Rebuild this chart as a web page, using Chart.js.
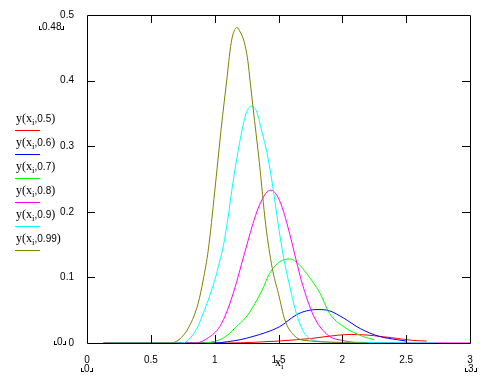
<!DOCTYPE html>
<html>
<head>
<meta charset="utf-8">
<script src="https://cdn.jsdelivr.net/npm/chart.js@4"></script>
<style>
    body { margin: 0; background: #fff; }
    #wrap { position: relative; width: 492px; height: 377px; }
    canvas { position: absolute; left: 0; top: 0; }
    .t { position: absolute; white-space: nowrap; color: #000; line-height: 14px; }
    .sans { font: 10px "Liberation Sans", Arial, sans-serif; }
    .ser { font: 12px "Liberation Serif", "Times New Roman", serif; }
    .sub { font: 9px "Liberation Serif", serif; position: relative; top: 3px; }
    .lim::before, .lim::after { content: ''; position: absolute; bottom: 2px; width: 2px; height: 3px; border-bottom: 1px solid #000; }
    .lim::before { left: -3px; border-left: 1px solid #000; }
    .lim::after { right: -3px; border-right: 1px solid #000; }
    .key { position: absolute; left: 15px; width: 25px; height: 1px; }
</style>
</head>
<body>
<div id="wrap">
    <canvas id="plot" width="492" height="377"></canvas>
    <div id="legend"></div>
    <div class="t sans lim" style="left:42px; top:21px;">0.48</div>
    <div class="t sans lim" style="left:57px; top:336px;">0</div>
    <div class="t sans lim" style="left:84px; top:363px;">0</div>
    <div class="t sans lim" style="left:468px; top:363px;">3</div>
    <div class="t ser" style="left:275px; top:355px;">x<span class="sub">i</span></div>
</div>
<script>
// Series data (x, y pairs per curve)
const xRed = [0.13, 1.1, 1.3, 1.5, 1.64, 1.76, 1.88, 1.97, 2.07, 2.2, 2.3, 2.43, 2.55, 2.66];
const yRed = [0, 0, 0.001, 0.003, 0.005, 0.007, 0.01, 0.012, 0.013, 0.012, 0.01, 0.007, 0.004, 0.003];

const xBlue = [0.13, 1.0, 1.1, 1.2, 1.3, 1.4, 1.51, 1.64, 1.72, 1.81, 1.9, 2.01, 2.14, 2.29, 2.43, 2.5];
const yBlue = [0, 0, 0.002, 0.005, 0.01, 0.016, 0.025, 0.043, 0.049, 0.051, 0.049, 0.038, 0.022, 0.01, 0.005, 0.003];

const xGreen = [0.13, 0.9, 1.04, 1.1, 1.17, 1.24, 1.3, 1.37, 1.43, 1.51, 1.595, 1.66, 1.72, 1.825, 1.9, 2.01, 2.16, 2.25];
const yGreen = [0, 0, 0.005, 0.012, 0.025, 0.038, 0.055, 0.08, 0.106, 0.124, 0.128, 0.12, 0.106, 0.076, 0.045, 0.025, 0.01, 0.005];

const xMagenta = [0.13, 0.85, 0.95, 1.04, 1.1, 1.16, 1.21, 1.26, 1.3, 1.34, 1.37, 1.4, 1.44, 1.485, 1.53, 1.564, 1.6, 1.65, 1.69, 1.75, 1.8, 1.9, 2.0, 2.1, 3.0];
const yMagenta = [0, 0, 0.008, 0.025, 0.05, 0.085, 0.12, 0.155, 0.182, 0.205, 0.218, 0.228, 0.233, 0.226, 0.206, 0.184, 0.157, 0.117, 0.088, 0.053, 0.032, 0.01, 0.004, 0.001, 0];

const xCyan = [0.13, 0.75, 0.8, 0.86, 0.92, 1.0, 1.04, 1.07, 1.1, 1.146, 1.21, 1.25, 1.29, 1.33, 1.37, 1.41, 1.446, 1.48, 1.51, 1.55, 1.59, 1.63, 1.67, 1.71, 1.75, 1.85, 2.0, 2.73];
const yCyan = [0, 0, 0.006, 0.022, 0.05, 0.095, 0.125, 0.15, 0.185, 0.248, 0.32, 0.352, 0.361, 0.352, 0.322, 0.29, 0.25, 0.205, 0.165, 0.12, 0.085, 0.052, 0.028, 0.013, 0.006, 0.002, 0.001, 0];

const xOlive = [0.13, 0.65, 0.72, 0.8, 0.87, 0.91, 0.95, 1.0, 1.05, 1.1, 1.12, 1.14, 1.175, 1.2, 1.23, 1.26, 1.28, 1.3, 1.35, 1.4, 1.45, 1.5, 1.55, 1.62, 1.7, 2.2];
const yOlive = [0, 0, 0.005, 0.025, 0.06, 0.096, 0.142, 0.23, 0.325, 0.41, 0.445, 0.468, 0.481, 0.474, 0.46, 0.43, 0.395, 0.36, 0.275, 0.18, 0.115, 0.075, 0.035, 0.012, 0.004, 0];

const params = ['0.5', '0.6', '0.7', '0.8', '0.9', '0.99'];
const colors = ['#ff0000', '#0000ff', '#00ff00', '#ff00ff', '#00ffff', '#808000'];
const xTicks = [0.5, 1, 1.5, 2, 2.5];
const yTicks = [0.1, 0.2, 0.3, 0.4];

const seriesX = [xRed, xBlue, xGreen, xMagenta, xCyan, xOlive];
const seriesY = [yRed, yBlue, yGreen, yMagenta, yCyan, yOlive];

function toPoints(xs, ys) {
    return xs.map((x, i) => ({ x: x, y: ys[i] }));
}

const trimZeros = v => String(Math.round(v * 10) / 10);

// Mathcad-style frame with inward ticks
const framePlugin = {
    id: 'frame',
    afterDraw(chart) {
        const ctx = chart.ctx;
        const a = chart.chartArea;
        const sx = chart.scales.x, sy = chart.scales.y;
        ctx.save();
        ctx.strokeStyle = '#000';
        ctx.lineWidth = 1;
        ctx.beginPath();
        ctx.rect(Math.round(a.left) + 0.5, Math.round(a.top) + 0.5, Math.round(a.right - a.left), Math.round(a.bottom - a.top));
        xTicks.forEach(v => {
            const px = Math.round(sx.getPixelForValue(v)) + 0.5;
            ctx.moveTo(px, a.bottom); ctx.lineTo(px, a.bottom - 8);
            ctx.moveTo(px, a.top); ctx.lineTo(px, a.top + 8);
        });
        yTicks.forEach(v => {
            const py = Math.round(sy.getPixelForValue(v)) + 0.5;
            ctx.moveTo(a.left, py); ctx.lineTo(a.left + 8, py);
            ctx.moveTo(a.right, py); ctx.lineTo(a.right - 8, py);
        });
        ctx.stroke();
        ctx.restore();
    }
};

function buildLegend() {
    const box = document.getElementById('legend');
    params.forEach((p, i) => {
        const top = 110 + i * 24;
        const txt = document.createElement('div');
        txt.className = 't';
        txt.style.left = '16px';
        txt.style.top = top + 'px';
        txt.innerHTML = '<span class="ser">y(x</span><span class="sub">i</span>' +
            '<span class="sans">,' + p + '</span><span class="ser">)</span>';
        box.appendChild(txt);
        const key = document.createElement('div');
        key.className = 'key';
        key.style.top = (top + 20) + 'px';
        key.style.background = colors[i];
        box.appendChild(key);
    });
}

window.onload = function() {
    buildLegend();
    const ctx = document.getElementById('plot').getContext('2d');
    new Chart(ctx, {
        type: 'line',
        data: {
            datasets: params.map((p, i) => ({
                label: 'y(x_i,' + p + ')',
                data: toPoints(seriesX[i], seriesY[i]),
                borderColor: colors[i],
                borderWidth: 1,
                pointRadius: 0,
                cubicInterpolationMode: 'monotone',
                fill: false,
                order: params.length - 1 - i
            }))
        },
        options: {
            responsive: false,
            animation: false,
            layout: { padding: { left: 47, top: 15, right: 22, bottom: 0 } },
            plugins: { legend: { display: false }, tooltip: { enabled: false } },
            scales: {
                x: {
                    type: 'linear', min: 0, max: 3,
                    afterFit: s => { s.height = 34; },
                    grid: { display: false },
                    border: { display: false },
                    ticks: { stepSize: 0.5, color: '#000', padding: 3, maxRotation: 0,
                        callback: trimZeros,
                        font: { family: 'Liberation Sans', size: 10 } }
                },
                y: {
                    min: 0, max: 0.5,
                    afterFit: s => { s.width = 40; },
                    grid: { display: false },
                    border: { display: false },
                    ticks: { stepSize: 0.1, color: '#000', padding: 5,
                        callback: trimZeros,
                        font: { family: 'Liberation Sans', size: 10 } }
                }
            }
        },
        plugins: [framePlugin]
    });
};
</script>
</body>
</html>
